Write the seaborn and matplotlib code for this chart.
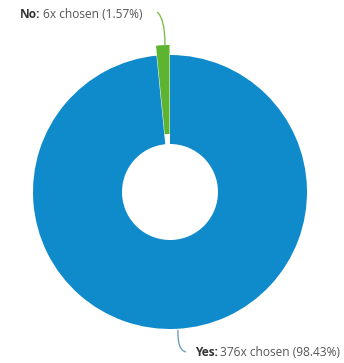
import matplotlib
matplotlib.use("Agg")
import matplotlib.pyplot as plt
import seaborn as sns
from matplotlib.path import Path
from matplotlib.patches import PathPatch

categories = ["No", "Yes"]
counts = [6, 376]
colors = ["#5DB431", "#0F8ACA"]
line_colors = ["#7CC04F", "#6E9FC1"]

sns.set_theme(style="white")
plt.rcParams['font.family'] = ['Open Sans', 'DejaVu Sans']

W, H = 344, 363
fig = plt.figure(figsize=(W / 100, H / 100), dpi=100)
ax = fig.add_axes([0, 0, 1, 1])

cx, cy = 170, H - 192
R = 137
inner = 48
explode_px = 10

wedges, _ = ax.pie(counts, colors=colors, startangle=90, counterclock=True,
                   radius=R, center=(cx, cy),
                   explode=[explode_px, 0],
                   wedgeprops=dict(width=R - inner, linewidth=0))
ax.set_xlim(0, W)
ax.set_ylim(0, H)
ax.set_aspect('equal')
ax.axis('off')

total = sum(counts)
pcts = [c / total * 100 for c in counts]

def curve(p0, p1, p2, color):
    pts = [(x, H - y) for x, y in (p0, p1, p2)]
    path = Path(pts, [Path.MOVETO, Path.CURVE3, Path.CURVE3])
    ax.add_patch(PathPatch(path, fc='none', ec=color, lw=1.0))

curve((157, 12), (165, 18), (165, 45), line_colors[0])
curve((178, 330), (177, 350), (186, 352), line_colors[1])

fig.canvas.draw()
renderer = fig.canvas.get_renderer()

def label(x, y, cat, cnt, pct):
    t1 = ax.text(x, H - y, f"{cat}:", fontsize=8.6, fontweight='bold',
                 color='#333333', va='center', ha='left')
    bb = t1.get_window_extent(renderer)
    ax.text(bb.x1 + 2.5, H - y, f"{cnt}x chosen ({pct:.2f}%)", fontsize=8.6,
            color='#555555', va='center', ha='left')

label(20, 15, categories[0], counts[0], pcts[0])
label(195, 353, categories[1], counts[1], pcts[1])

fig.savefig("out.png", dpi=100)
